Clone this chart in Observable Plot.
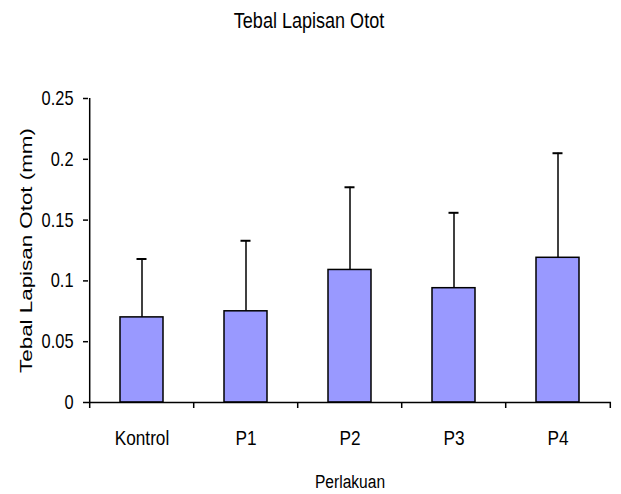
<!DOCTYPE html>
<html>
<head>
<meta charset="utf-8">
<script src="https://cdn.jsdelivr.net/npm/d3@7"></script>
<script src="https://cdn.jsdelivr.net/npm/@observablehq/plot@0.6"></script>
<style>
  html, body { margin: 0; padding: 0; background: white; }
</style>
</head>
<body>
<div id="chart"></div>
<script>
const categories = ["Kontrol", "P1", "P2", "P3", "P4"];
const means = [0.070, 0.075, 0.109, 0.094, 0.119];
const sds = [0.048, 0.058, 0.068, 0.062, 0.086];
const yTicks = [0, 0.05, 0.1, 0.15, 0.2, 0.25];
const yTickLabels = ["0", "0.05", "0.1", "0.15", "0.2", "0.25"];
const title = "Tebal Lapisan Otot";
const xLabel = "Perlakuan";
const yLabel = "Tebal Lapisan Otot (mm)";

const data = categories.map((c, i) => ({cat: c, mean: means[i], top: means[i] + sds[i]}));

const W = 621, H = 494, mT = 98, mB = 92, mL = 88, mR = 10;
const step = (W - mL - mR) / categories.length;

const chart = Plot.plot({
  width: W, height: H,
  marginTop: mT, marginBottom: mB, marginLeft: mL, marginRight: mR,
  style: {fontFamily: "'Liberation Sans', Arial, sans-serif", background: "white", color: "black"},
  x: {domain: categories, paddingInner: 0.59, paddingOuter: 0.295, label: null},
  y: {domain: [0, 0.25], label: null},
  marks: [
    Plot.ruleX(data, {x: "cat", y1: "mean", y2: "top", stroke: "black", strokeWidth: 1.5}),
    Plot.tickY(data, {x: "cat", y: "top", stroke: "black", strokeWidth: 2, insetLeft: 16.5, insetRight: 16.5}),
    Plot.barY(data, {x: "cat", y: "mean", fill: "#9999ff", stroke: "black", strokeWidth: 1.5}),
    Plot.axisY({ticks: yTicks, tickFormat: d => yTickLabels[yTicks.indexOf(d)], tickSize: 5, tickPadding: 10, fontSize: 20, strokeWidth: 1.5, label: null}),
    Plot.axisX({tickSize: 0, tickPadding: 28, fontSize: 21, label: null}),
    Plot.axisX({tickSize: 6, text: null, dx: -step / 2, strokeWidth: 1.5, label: null}),
    Plot.axisX([categories[categories.length - 1]], {tickSize: 6, text: null, dx: step / 2, strokeWidth: 1.5, label: null}),
    Plot.ruleY([0], {stroke: "black", strokeWidth: 1.5}),
    Plot.ruleX([categories[0]], {dx: -step / 2, stroke: "black", strokeWidth: 1.5}),
    Plot.text([title], {frameAnchor: "top", lineAnchor: "bottom", dy: -71, dx: -41, fontSize: 22}),
    Plot.text([xLabel], {frameAnchor: "bottom", lineAnchor: "bottom", dy: 85, fontSize: 19}),
    Plot.text([yLabel], {frameAnchor: "left", textAnchor: "middle", rotate: -90, lineAnchor: "bottom", dx: -57, fontSize: 16.5, className: "ylab"})
  ]
});

document.getElementById("chart").appendChild(chart);

// the reference is horizontally squeezed: narrow horizontal text, stretched vertical text
d3.select(chart).selectAll("text").each(function() {
  const el = this;
  const isY = !!el.closest(".ylab");
  const s = isY ? 245 / el.getComputedTextLength() : 0.82;
  let tr = el.getAttribute("transform");
  if (!tr) {
    const x = el.getAttribute("x") || 0, y = el.getAttribute("y") || 0;
    el.removeAttribute("x"); el.removeAttribute("y");
    tr = `translate(${x},${y})`;
  }
  el.setAttribute("transform", `${tr} scale(${s},1)`);
});
</script>
</body>
</html>
